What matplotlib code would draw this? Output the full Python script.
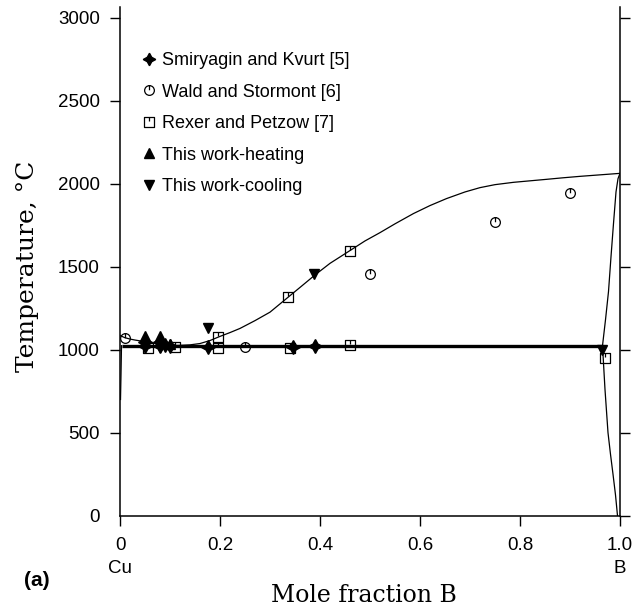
import matplotlib
matplotlib.use("Agg")
import matplotlib.pyplot as plt
from matplotlib.path import Path
from matplotlib.lines import Line2D

# ---------------- data ----------------
smir_x = [0.05, 0.05, 0.08, 0.08, 0.09, 0.10, 0.175, 0.345, 0.39]
smir_T = [1045, 1025, 1045, 1020, 1030, 1025, 1015, 1015, 1020]

wald_x = [0.01, 0.25, 0.50, 0.75, 0.90]
wald_T = [1072, 1015, 1456, 1770, 1945]

rexer_x = [0.055, 0.11, 0.195, 0.195, 0.335, 0.34, 0.46, 0.46, 0.97]
rexer_T = [1010, 1015, 1075, 1010, 1318, 1012, 1597, 1027, 950]

heat_x = [0.05, 0.08, 0.10]
heat_T = [1082, 1080, 1035]

cool_x = [0.08, 0.175, 0.388, 0.963]
cool_T = [1015, 1128, 1456, 998]

cu_liq_x = [0.0, 0.01, 0.02, 0.03, 0.05, 0.065, 0.08, 0.10]
cu_liq_T = [1085, 1072, 1064, 1058, 1048, 1041, 1034, 1025]

b_liq_x = [0.10, 0.12, 0.14, 0.16, 0.18, 0.20, 0.22, 0.24, 0.27, 0.30,
           0.337, 0.36, 0.39, 0.42, 0.46, 0.49, 0.52, 0.55, 0.587, 0.62,
           0.653, 0.69, 0.72, 0.75, 0.787, 0.82, 0.853, 0.885, 0.92,
           0.96, 1.0]
b_liq_T = [1025, 1026, 1029, 1037, 1055, 1080, 1103, 1128, 1175, 1226,
           1318, 1375, 1450, 1520, 1597, 1655, 1705, 1758, 1820, 1868,
           1910, 1950, 1976, 1994, 2008, 2017, 2026, 2035, 2044,
           2053, 2062]

b_sol_x = [1.0, 0.996, 0.992, 0.987, 0.982, 0.977, 0.971, 0.965]
b_sol_T = [2062, 2030, 1950, 1760, 1560, 1350, 1180, 1024]

b_solv_x = [0.965, 0.970, 0.976, 0.981, 0.986, 0.991, 0.995]
b_solv_T = [1024, 760, 500, 370, 250, 125, 0]

cu_solv_x = [0.003, 0.002, 0.001]
cu_solv_T = [1024, 850, 700]

eut_x = [0.003, 0.965]
eut_T = [1024, 1024]

legend_labels = ["Smiryagin and Kvurt [5]", "Wald and Stormont [6]",
                 "Rexer and Petzow [7]", "This work-heating", "This work-cooling"]
xticks = [0, 0.2, 0.4, 0.6, 0.8, 1.0]
xticklabels = ["0", "0.2", "0.4", "0.6", "0.8", "1.0"]
yticks = [0, 500, 1000, 1500, 2000, 2500, 3000]

# ---------------- markers ----------------
circ_tick = Path.make_compound_path(Path.unit_circle(),
                                    Path([(0, 1.0), (0, 0.05)]))
sq_tick = Path.make_compound_path(
    Path([(-1, -1), (1, -1), (1, 1), (-1, 1), (-1, -1)],
         [Path.MOVETO, Path.LINETO, Path.LINETO, Path.LINETO, Path.CLOSEPOLY]),
    Path([(0, 1.0), (0, 0.15)]))
star4 = (4, 1, 0)

sans = ["Liberation Sans", "DejaVu Sans"]
serif = ["DejaVu Serif"]
plt.rcParams['font.family'] = sans

fig = plt.figure(figsize=(6.39, 6.12), dpi=100)
ax = fig.add_axes([120/639, 1 - 515.7/612, 500/639, 508.7/612])

lw_thin = 0.9
ax.plot(cu_liq_x, cu_liq_T, color="black", lw=lw_thin)
ax.plot(b_liq_x, b_liq_T, color="black", lw=lw_thin)
ax.plot(b_sol_x, b_sol_T, color="black", lw=lw_thin)
ax.plot(b_solv_x, b_solv_T, color="black", lw=lw_thin)
ax.plot(cu_solv_x, cu_solv_T, color="black", lw=lw_thin)
ax.plot(eut_x, eut_T, color="black", lw=2.4, solid_capstyle="butt")

mk = dict(linestyle="none", color="black")
ax.plot(smir_x, smir_T, marker=star4, markersize=10, **mk)
ax.plot(wald_x, wald_T, marker=circ_tick, markersize=7, mfc="none",
        mec="black", mew=0.9, **mk)
ax.plot(rexer_x, rexer_T, marker=sq_tick, markersize=7.5, mfc="none",
        mec="black", mew=0.9, **mk)
ax.plot(heat_x, heat_T, marker="^", markersize=7.5, **mk)
ax.plot(cool_x, cool_T, marker="v", markersize=7.5, **mk)

handles = [
    Line2D([], [], marker=star4, markersize=9, **mk),
    Line2D([], [], marker=circ_tick, markersize=7, mfc="none", mec="black", mew=0.9, **mk),
    Line2D([], [], marker=sq_tick, markersize=7.5, mfc="none", mec="black", mew=0.9, **mk),
    Line2D([], [], marker="^", markersize=7.5, **mk),
    Line2D([], [], marker="v", markersize=7.5, **mk),
]
ax.legend(handles, legend_labels, loc="upper left", frameon=False,
          bbox_to_anchor=(0.03, 0.925), fontsize=13, handlelength=0.7,
          handletextpad=0.4, labelspacing=0.80, borderaxespad=0.0)

ax.set_xlim(0, 1.0)
ax.set_ylim(0, 3064)
ax.spines["top"].set_visible(False)
for s in ["left", "right", "bottom"]:
    ax.spines[s].set_linewidth(1.1)

ax.set_xticks(xticks)
ax.set_xticklabels(xticklabels)
ax.set_yticks(yticks)
ax.tick_params(axis="both", direction="out", length=7.5, width=1.0,
               labelsize=13.5, pad=7)
ax.tick_params(axis="y", right=True, labelright=False)
ax.tick_params(axis="x", pad=8)
ax.yaxis.get_major_ticks()[0].tick1line.set_visible(False)

# component labels
ax.text(0.0, -0.103, "Cu", transform=ax.transAxes, ha="center", va="center",
        fontsize=13.5)
ax.text(1.0, -0.103, "B", transform=ax.transAxes, ha="center", va="center",
        fontsize=13.5)

fig.text(37/639, 1 - 581/612, "(a)", ha="center", va="center",
         fontsize=15, fontweight="bold")
fig.text(364/639, 1 - 595/612, "Mole fraction B", ha="center", va="center",
         fontsize=17, family=serif)
fig.text(28/639, 1 - 266/612, "Temperature, \u00b0C", ha="center", va="center",
         fontsize=18, family=serif, rotation=90)

fig.savefig("out.png", dpi=100)
